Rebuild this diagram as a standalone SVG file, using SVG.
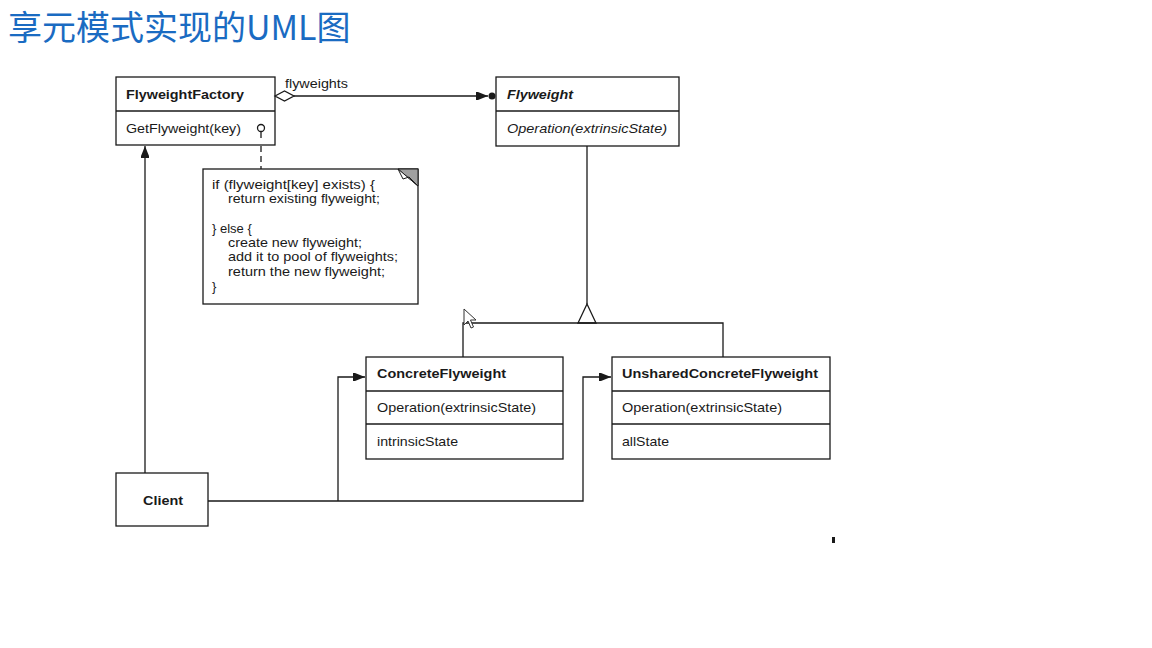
<svg xmlns="http://www.w3.org/2000/svg" width="1152" height="648" viewBox="0 0 1152 648">
  <defs>
    <style>
      .box { fill: #ffffff; stroke: #1a1a1a; stroke-width: 1.3; }
      .ln { fill: none; stroke: #1a1a1a; stroke-width: 1.3; }
      .t { font-family: "Liberation Sans", Arial, sans-serif; font-size: 13px; fill: #1a1a1a; }
      .b { font-weight: bold; }
      .i { font-style: italic; }
      .title { font-family: "Noto Sans CJK SC", "Noto Sans", sans-serif; font-size: 34px; font-weight: normal; fill: #1a6bc2; }
    </style>
    <marker id="arr" viewBox="0 0 12 10" refX="12" refY="5" markerWidth="12" markerHeight="10" markerUnits="userSpaceOnUse" orient="auto">
      <path d="M0,1 L2,1 L12,5 L2,9 L0,9 Z" fill="#1a1a1a"/>
    </marker>
  </defs>
  <rect width="1152" height="648" fill="#ffffff"/>

  <text class="title" x="8" y="40">享元模式实现的UML图</text>

  <g id="FlyweightFactory">
    <rect class="box" x="116" y="77" width="159" height="68"/>
    <line class="ln" x1="116" y1="111" x2="275" y2="111"/>
    <text class="t b" x="126" y="99" textLength="118" lengthAdjust="spacingAndGlyphs">FlyweightFactory</text>
    <text class="t" x="126" y="133" textLength="115" lengthAdjust="spacingAndGlyphs">GetFlyweight(key)</text>
  </g>

  <g id="Flyweight">
    <rect class="box" x="496" y="77" width="183" height="69"/>
    <line class="ln" x1="496" y1="111" x2="679" y2="111"/>
    <text class="t b i" x="507" y="99" textLength="66" lengthAdjust="spacingAndGlyphs">Flyweight</text>
    <text class="t i" x="507" y="133" textLength="160" lengthAdjust="spacingAndGlyphs">Operation(extrinsicState)</text>
  </g>

  <g id="note">
    <rect class="box" x="203" y="169" width="215" height="135"/>
    <polygon points="398,169 418,169 418,186" fill="#a0a0a0" stroke="#1a1a1a" stroke-width="1"/>
    <polygon points="398,169 403,179 409,177 418,186" fill="#ffffff" stroke="#1a1a1a" stroke-width="1"/>
    <text class="t" x="212" y="189" textLength="163" lengthAdjust="spacingAndGlyphs">if (flyweight[key] exists) {</text>
    <text class="t" x="228" y="203" textLength="152" lengthAdjust="spacingAndGlyphs">return existing flyweight;</text>
    <text class="t" x="212" y="233">} else {</text>
    <text class="t" x="228" y="247" textLength="134" lengthAdjust="spacingAndGlyphs">create new flyweight;</text>
    <text class="t" x="228" y="261" textLength="170" lengthAdjust="spacingAndGlyphs">add it to pool of flyweights;</text>
    <text class="t" x="228" y="276" textLength="157" lengthAdjust="spacingAndGlyphs">return the new flyweight;</text>
    <text class="t" x="212" y="291">}</text>
  </g>

  <g id="ConcreteFlyweight">
    <rect class="box" x="366" y="357" width="197" height="102"/>
    <line class="ln" x1="366" y1="391" x2="563" y2="391"/>
    <line class="ln" x1="366" y1="424" x2="563" y2="424"/>
    <text class="t b" x="377" y="378" textLength="129" lengthAdjust="spacingAndGlyphs">ConcreteFlyweight</text>
    <text class="t" x="377" y="412" textLength="159" lengthAdjust="spacingAndGlyphs">Operation(extrinsicState)</text>
    <text class="t" x="377" y="446" textLength="81" lengthAdjust="spacingAndGlyphs">intrinsicState</text>
  </g>

  <g id="UnsharedConcreteFlyweight">
    <rect class="box" x="612" y="357" width="218" height="102"/>
    <line class="ln" x1="612" y1="391" x2="830" y2="391"/>
    <line class="ln" x1="612" y1="424" x2="830" y2="424"/>
    <text class="t b" x="622" y="378" textLength="196" lengthAdjust="spacingAndGlyphs">UnsharedConcreteFlyweight</text>
    <text class="t" x="622" y="412" textLength="160" lengthAdjust="spacingAndGlyphs">Operation(extrinsicState)</text>
    <text class="t" x="622" y="446" textLength="47" lengthAdjust="spacingAndGlyphs">allState</text>
  </g>

  <g id="Client">
    <rect class="box" x="116" y="473" width="92" height="53"/>
    <text class="t b" x="143" y="505" textLength="40" lengthAdjust="spacingAndGlyphs">Client</text>
  </g>

  <g id="connectors">
    <!-- aggregation FlyweightFactory -> Flyweight -->
    <path class="ln" d="M294,96 L488,96" marker-end="url(#arr)"/>
    <polygon points="275,96 284.5,91 294,96 284.5,101" fill="#ffffff" stroke="#1a1a1a" stroke-width="1.3"/>
    <circle cx="492" cy="96" r="3.5" fill="#1a1a1a"/>
    <text class="t" x="285" y="88" textLength="63" lengthAdjust="spacingAndGlyphs">flyweights</text>
    <!-- generalization -->
    <path class="ln" d="M587,146 L587,304"/>
    <polygon points="587,304 578,323 596,323" fill="#ffffff" stroke="#1a1a1a" stroke-width="1.3"/>
    <path class="ln" d="M463,357 L463,323 L723,323 L723,357"/>
    <!-- Client -> FlyweightFactory -->
    <path class="ln" d="M145,473 L145,146" marker-end="url(#arr)"/>
    <!-- Client -> UnsharedConcreteFlyweight / ConcreteFlyweight -->
    <path class="ln" d="M208,501 L583,501 L583,377 L611,377" marker-end="url(#arr)"/>
    <path class="ln" d="M338,501 L338,377 L365,377" marker-end="url(#arr)"/>
    <!-- note anchor -->
    <circle cx="261" cy="128" r="3.5" fill="#ffffff" stroke="#1a1a1a" stroke-width="1.3"/>
    <path class="ln" d="M261,131.5 L261,138"/>
    <path class="ln" d="M261,146 L261,169" stroke-dasharray="6,4"/>
  </g>

  <!-- screen artifacts -->
  <path d="M464,309 L464,325 L468,321 L471,328 L473.5,327 L470.5,320 L476,320 Z" fill="#ffffff" stroke="#333333" stroke-width="1"/>
  <rect x="832" y="537" width="3" height="6" fill="#1a1a1a"/>
</svg>
